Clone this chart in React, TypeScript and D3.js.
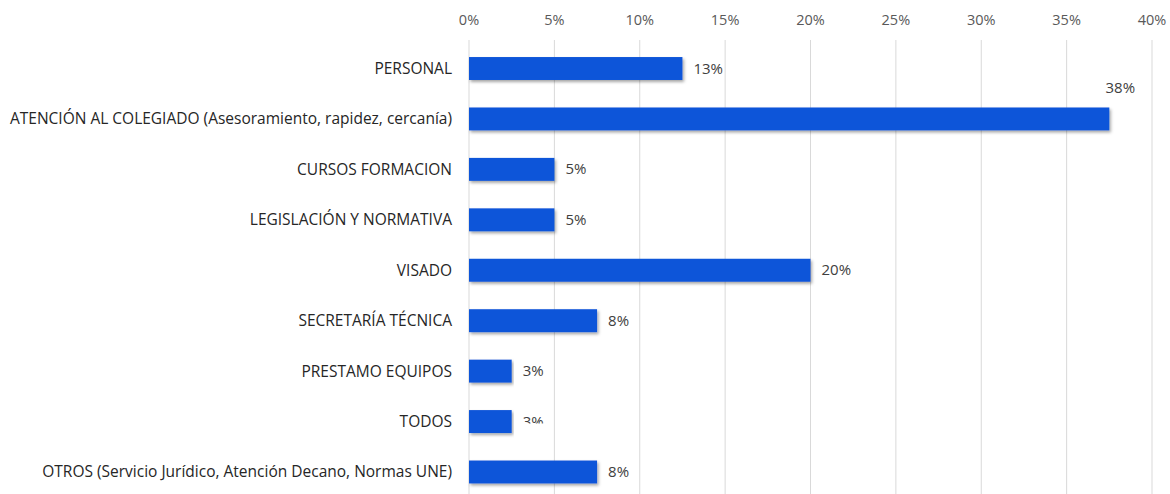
import React from "react";
import * as d3 from "d3";

const categories = [
  "PERSONAL",
  "ATENCIÓN AL COLEGIADO (Asesoramiento, rapidez, cercanía)",
  "CURSOS FORMACION",
  "LEGISLACIÓN Y NORMATIVA",
  "VISADO",
  "SECRETARÍA TÉCNICA",
  "PRESTAMO EQUIPOS",
  "TODOS",
  "OTROS (Servicio Jurídico, Atención Decano, Normas UNE)",
];
const values = [12.5, 37.5, 5.0, 5.0, 20.0, 7.5, 2.5, 2.5, 7.5];
const valueLabels = ["13%", "38%", "5%", "5%", "20%", "8%", "3%", "3%", "8%"];
const ticks = [0, 5, 10, 15, 20, 25, 30, 35, 40];

const W = 1170;
const H = 494;
const FONT = "'Open Sans', sans-serif";

export default function App() {
  const x = d3.scaleLinear().domain([0, 40]).range([469, 1152]);
  const y = d3
    .scaleBand<string>()
    .domain(categories)
    .range([43.3, 497.2])
    .paddingInner(0.545)
    .paddingOuter(0.2725);
  const bh = y.bandwidth();

  return (
    <svg
      width={W}
      height={H}
      style={{ position: "absolute", left: 0, top: 0, background: "#fff" }}
      fontFamily={FONT}
    >
      <defs>
        <filter id="sh" x="-5%" y="-30%" width="110%" height="180%">
          <feDropShadow dx="1.5" dy="2" stdDeviation="1.5" floodColor="#000" floodOpacity="0.35" />
        </filter>
        <clipPath id="clipTodos">
          <rect x={0} y={0} width={W} height={(y("TODOS") as number) + bh / 2 + 2} />
        </clipPath>
      </defs>
      {ticks.map((t) => (
        <g key={t}>
          <line x1={x(t)} x2={x(t)} y1={40} y2={H} stroke="#d9d9d9" strokeWidth={1} />
          <text x={x(t)} y={25} textAnchor="middle" fontSize={14.5} fill="#595959">
            {t}%
          </text>
        </g>
      ))}
      {categories.map((c, i) => {
        const yc = (y(c) as number) + bh / 2;
        const isTop = i === 1;
        return (
          <g key={c}>
            <rect
              x={x(0)}
              y={y(c)}
              width={x(values[i]) - x(0)}
              height={bh}
              fill="#1155d9"
              filter="url(#sh)"
            />
            <text x={452} y={yc + 5.5} textAnchor="end" fontSize={15.5} fill="#262626">
              {c}
            </text>
            <text
              x={isTop ? x(values[i]) + 11 : x(values[i]) + 11}
              y={isTop ? (y(c) as number) - 14 : yc + 5}
              textAnchor={isTop ? "middle" : "start"}
              fontSize={15}
              fill="#404040"
              clipPath={c === "TODOS" ? "url(#clipTodos)" : undefined}
            >
              {valueLabels[i]}
            </text>
          </g>
        );
      })}
    </svg>
  );
}
